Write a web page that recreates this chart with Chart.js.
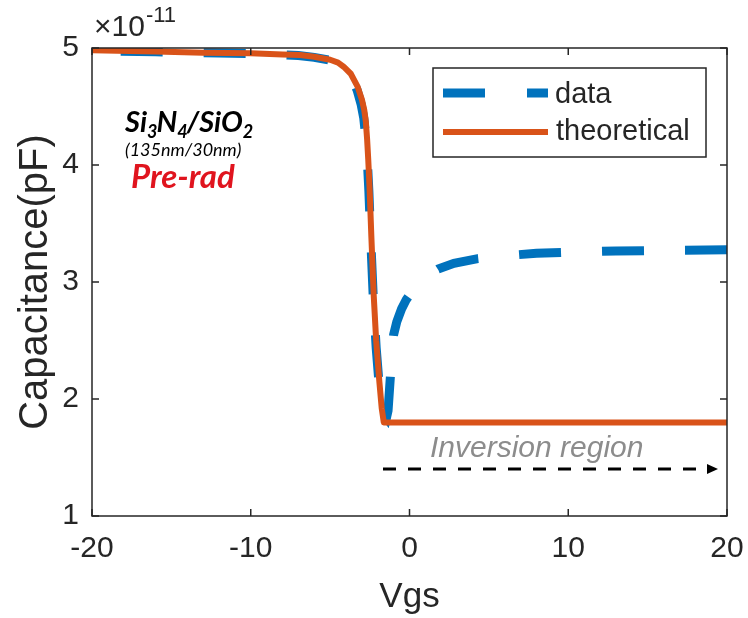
<!DOCTYPE html>
<html>
<head>
<meta charset="utf-8">
<script src="https://cdn.jsdelivr.net/npm/chart.js@4.4.1/dist/chart.umd.min.js"></script>
<style>
  html, body { margin: 0; padding: 0; background: #fff; }
  #wrap { width: 748px; height: 618px; position: relative; }
</style>
</head>
<body>
<div id="wrap"><canvas id="grafico"></canvas></div>
<script>
// valores en unidades de 1e-11 (eje con multiplicador x10^-11)
const vgsTeo = [-20, -16, -13, -10, -8, -6.9, -6, -5, -4.5, -4.15, -3.7, -3.27, -3.0, -2.85, -2.75, -2.67, -2.6, -2.52, -2.4, -2.26, -2.1, -1.9, -1.75, -1.62, 20];
const capTeo = [4.98, 4.97, 4.96, 4.955, 4.945, 4.94, 4.925, 4.9, 4.875, 4.84, 4.78, 4.67, 4.56, 4.47, 4.37, 4.22, 4.05, 3.82, 3.38, 2.9, 2.5, 2.15, 1.92, 1.8, 1.8];

const vgsData = [-20, -16, -12, -9, -7, -6, -5, -4.5, -4.1, -3.7, -3.3, -3.05, -2.88, -2.76, -2.66, -2.56, -2.44, -2.28, -2.1, -1.9, -1.72, -1.56, -1.45, -1.35, -1.25, -1.15, -1.0, -0.8, -0.5, -0.2, 0.06, 0.5, 1.0, 1.8, 2.8, 4.3, 6, 8, 10, 13, 16, 20];
const capData = [4.975, 4.968, 4.958, 4.95, 4.935, 4.92, 4.895, 4.865, 4.825, 4.76, 4.64, 4.52, 4.4, 4.24, 4.05, 3.78, 3.36, 2.86, 2.44, 2.1, 1.93, 1.86, 1.84, 1.9, 2.1, 2.3, 2.55, 2.66, 2.77, 2.85, 2.9, 2.98, 3.04, 3.11, 3.16, 3.2, 3.225, 3.245, 3.255, 3.265, 3.27, 3.275];

const xTicks = [-20, -10, 0, 10, 20];
const yTicks = [1, 2, 3, 4, 5];
const nombres = ["data", "theoretical"];
const azul = "#0072BD";
const naranja = "#D95319";

const puntos = (xs, ys) => xs.map((x, i) => ({ x: x, y: ys[i] }));

const decor = {
  id: "decor",
  afterDraw(chart) {
    const ctx = chart.ctx;
    const a = chart.chartArea;
    const sx = chart.scales.x, sy = chart.scales.y;
    ctx.save();

    // caja con marcas hacia dentro
    ctx.strokeStyle = "#262626";
    ctx.lineWidth = 1.5;
    ctx.strokeRect(a.left, a.top, a.right - a.left, a.bottom - a.top);
    ctx.beginPath();
    xTicks.forEach(v => {
      const p = sx.getPixelForValue(v);
      ctx.moveTo(p, a.bottom); ctx.lineTo(p, a.bottom - 7);
      ctx.moveTo(p, a.top); ctx.lineTo(p, a.top + 7);
    });
    yTicks.forEach(v => {
      const p = sy.getPixelForValue(v);
      ctx.moveTo(a.left, p); ctx.lineTo(a.left + 7, p);
      ctx.moveTo(a.right, p); ctx.lineTo(a.right - 7, p);
    });
    ctx.stroke();

    // multiplicador
    ctx.fillStyle = "#262626";
    ctx.textBaseline = "alphabetic";
    ctx.textAlign = "left";
    ctx.font = "30px 'Liberation Sans', Arial, sans-serif";
    ctx.fillText("\u00d710", 94, 36);
    const w = ctx.measureText("\u00d710").width;
    ctx.font = "22px 'Liberation Sans', Arial, sans-serif";
    ctx.fillText("-11", 94 + w + 1, 22);

    // leyenda
    const lx = 433, ly = 68, lw = 273, lh = 89;
    ctx.fillStyle = "#fff";
    ctx.fillRect(lx, ly, lw, lh);
    ctx.strokeStyle = "#262626";
    ctx.lineWidth = 1.5;
    ctx.strokeRect(lx, ly, lw, lh);
    ctx.lineWidth = 9;
    ctx.strokeStyle = azul;
    ctx.beginPath();
    ctx.moveTo(443, 93); ctx.lineTo(485, 93);
    ctx.moveTo(527, 93); ctx.lineTo(548, 93);
    ctx.stroke();
    ctx.lineWidth = 6;
    ctx.strokeStyle = naranja;
    ctx.beginPath();
    ctx.moveTo(443, 132); ctx.lineTo(548, 132);
    ctx.stroke();
    ctx.fillStyle = "#262626";
    ctx.font = "29px 'Liberation Sans', Arial, sans-serif";
    ctx.textBaseline = "middle";
    ctx.fillText(nombres[0], 555, 95);
    ctx.fillText(nombres[1], 556, 132);

    // anotaciones
    ctx.textBaseline = "alphabetic";
    const partes = [["Si", 0], ["3", 1], ["N", 0], ["4", 1], ["/SiO", 0], ["2", 1]];
    let px = 125;
    partes.forEach(([t, sub]) => {
      ctx.font = sub ? "bold italic 18px Lato, sans-serif" : "bold italic 29px Lato, sans-serif";
      ctx.fillStyle = "#000";
      ctx.fillText(t, px, sub ? 138 : 132);
      px += ctx.measureText(t).width - (sub ? 1 : 0);
    });
    ctx.font = "italic 18px Lato, sans-serif";
    ctx.fillText("(135nm/30nm)", 125, 156);
    ctx.font = "bold italic 33px Lato, sans-serif";
    ctx.fillStyle = "#E0141E";
    ctx.fillText("Pre-rad", 131, 188);

    ctx.font = "italic 30px 'Liberation Sans', Arial, sans-serif";
    ctx.fillStyle = "#8C8C8C";
    ctx.fillText("Inversion region", 430, 457);

    // flecha discontinua
    const y0 = 469, x0 = 383, x1 = 718;
    ctx.strokeStyle = "#000";
    ctx.lineWidth = 3;
    ctx.setLineDash([13, 12]);
    ctx.beginPath();
    ctx.moveTo(x0, y0); ctx.lineTo(x1 - 8, y0);
    ctx.stroke();
    ctx.setLineDash([]);
    ctx.fillStyle = "#000";
    ctx.beginPath();
    ctx.moveTo(x1, y0); ctx.lineTo(x1 - 11, y0 - 5); ctx.lineTo(x1 - 11, y0 + 5);
    ctx.closePath();
    ctx.fill();

    ctx.restore();
  }
};

const ctx = document.getElementById("grafico").getContext("2d");
new Chart(ctx, {
  type: "scatter",
  data: {
    datasets: [
      {
        label: nombres[0],
        // se recorre de derecha a izquierda para que los trazos arranquen en Vgs=20
        data: puntos(vgsData, capData).reverse(),
        showLine: true,
        borderColor: azul,
        backgroundColor: azul,
        borderWidth: 9,
        borderDash: [42, 41],
        borderDashOffset: 0,
        pointRadius: 0,
        tension: 0,
        order: 2
      },
      {
        label: nombres[1],
        data: puntos(vgsTeo, capTeo),
        showLine: true,
        borderColor: naranja,
        backgroundColor: naranja,
        borderWidth: 6,
        borderJoinStyle: "round",
        pointRadius: 0,
        tension: 0,
        order: 1
      }
    ]
  },
  options: {
    responsive: true,
    maintainAspectRatio: false,
    animation: false,
    layout: { padding: { left: 0, right: 21, top: 48, bottom: 0 } },
    plugins: { legend: { display: false }, tooltip: { enabled: false } },
    scales: {
      x: {
        type: "linear",
        min: -20, max: 20,
        afterFit: s => { s.height = 102; s.paddingLeft = 0; s.paddingRight = 0; },
        afterBuildTicks: s => { s.ticks = xTicks.map(v => ({ value: v })); },
        grid: { display: false, drawTicks: false },
        border: { display: false },
        ticks: {
          padding: 15,
          color: "#262626",
          font: { family: "'Liberation Sans', Arial, sans-serif", size: 30, lineHeight: 1.2 },
          maxRotation: 0,
          callback: v => String(v)
        },
        title: {
          display: true,
          text: "Vgs",
          color: "#262626",
          font: { family: "'Liberation Sans', Arial, sans-serif", size: 35, lineHeight: 1.2 },
          padding: { top: 0, bottom: 0 }
        }
      },
      y: {
        type: "linear",
        min: 1, max: 5,
        afterFit: s => { s.width = 92; s.paddingTop = 0; s.paddingBottom = 0; },
        afterBuildTicks: s => { s.ticks = yTicks.map(v => ({ value: v })); },
        grid: { display: false, drawTicks: false },
        border: { display: false },
        ticks: {
          padding: 13,
          color: "#262626",
          font: { family: "'Liberation Sans', Arial, sans-serif", size: 30, lineHeight: 1.2 },
          callback: v => String(v)
        },
        title: {
          display: true,
          text: "Capacitance(pF)",
          color: "#262626",
          font: { family: "'Liberation Sans', Arial, sans-serif", size: 40, lineHeight: 1.2 },
          padding: { top: 12, bottom: 0 }
        }
      }
    }
  },
  plugins: [decor]
});
</script>
</body>
</html>
